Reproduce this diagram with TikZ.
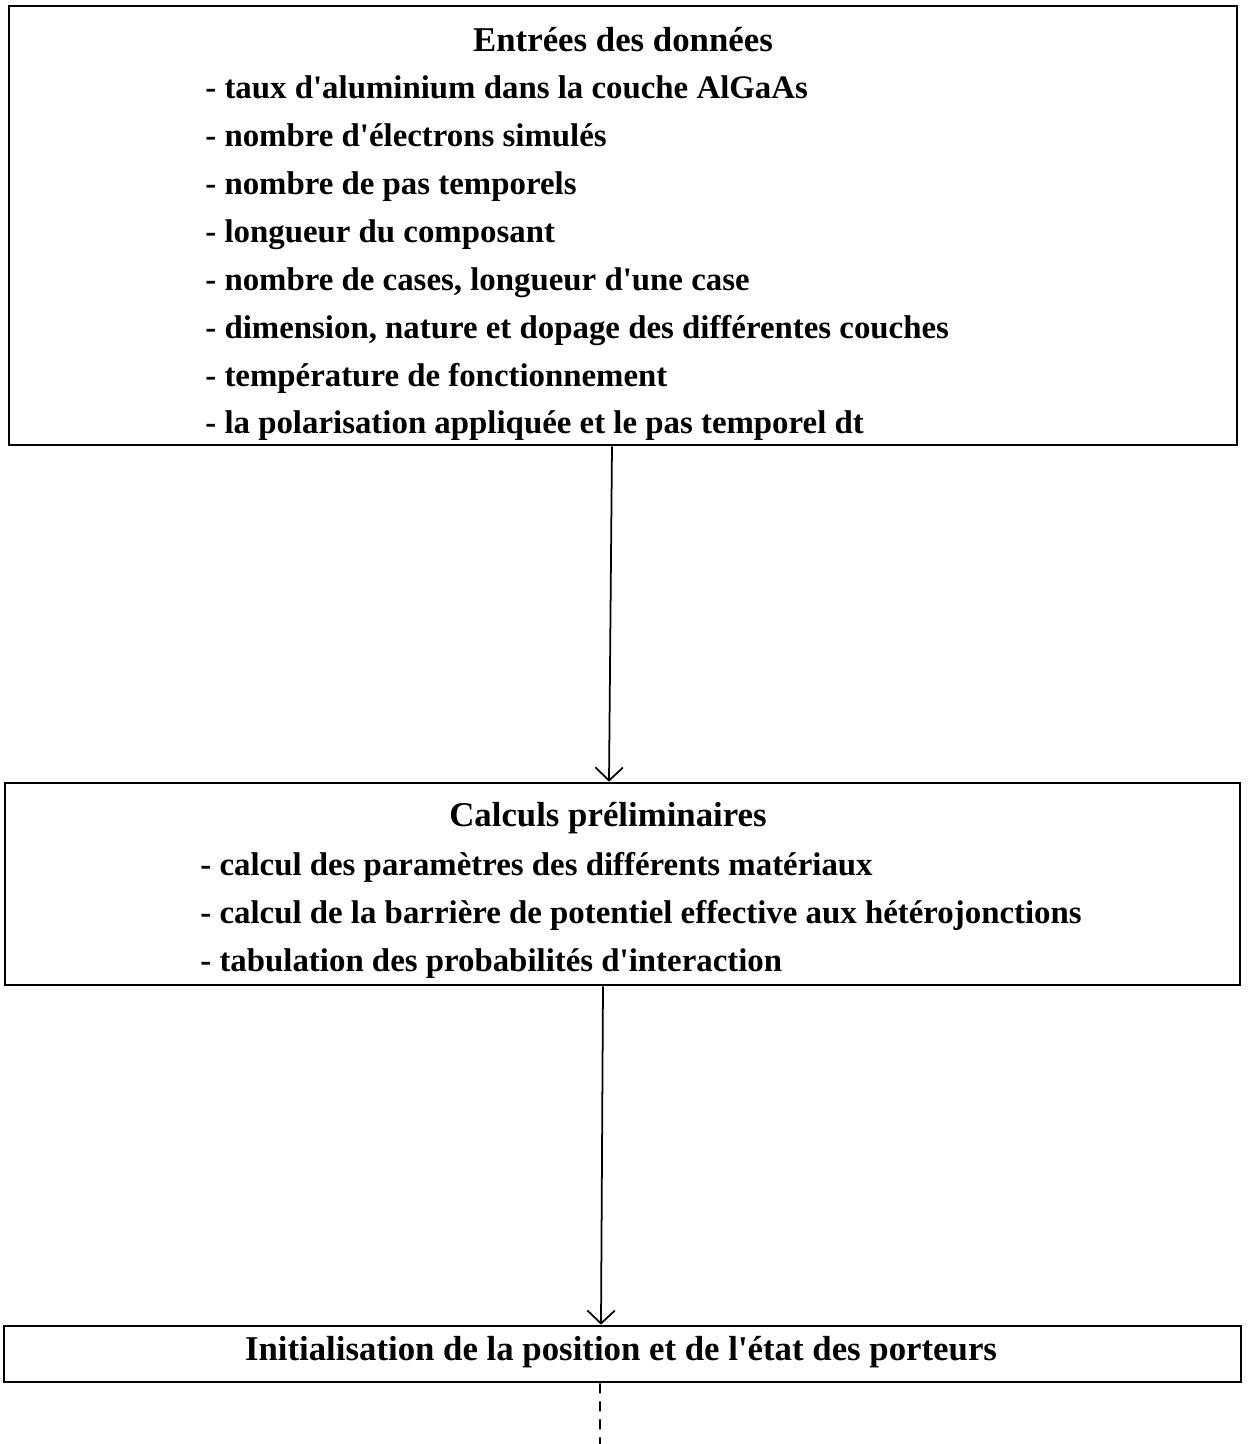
\documentclass[tikz,border=0pt]{standalone}
\usepackage{fontspec}
\setmainfont{Liberation Serif}
\usetikzlibrary{arrows.meta,positioning}
\newcommand{\ap}{\textquotesingle}

\begin{document}
\begin{tikzpicture}[>={Straight Barb[length=2.6mm,width=5.5mm]},
  bx/.style={rectangle,draw,line width=1.5pt,inner sep=0pt},
  ttl/.style={font=\fontsize{19.8}{27.3}\selectfont\bfseries},
  lst/.style={align=left,anchor=north west,inner sep=0pt,font=\fontsize{18.7}{27.3}\selectfont\bfseries}]
  \useasboundingbox (0,0) rectangle (24.98,-28.88);
  % boxes
  \node[bx, minimum width=24.56cm, minimum height=8.78cm] (entrees) at (12.46,-4.51) {};
  \node[bx, minimum width=24.70cm, minimum height=4.04cm] (calculs) at (12.45,-17.68) {};
  \node[bx, minimum width=24.74cm, minimum height=1.12cm] (init) at (12.45,-27.08) {};
  % texts
  \node[ttl] (entreesT) at (12.46,-0.80) {Entrées des données};
  \node[lst] (entreesL) at (4.10,-1.50) {- taux d\ap aluminium dans la couche AlGaAs\\
    - nombre d\ap électrons simulés\\
    - nombre de pas temporels\\
    - longueur du composant\\
    - nombre de cases, longueur d\ap une case\\
    - dimension, nature et dopage des différentes couches\\
    - température de fonctionnement\\
    - la polarisation appliquée et le pas temporel dt};
  \node[ttl] (calculsT) at (12.16,-16.36) {Calculs préliminaires};
  \node[lst] (calculsL) at (4.00,-17.04) {- calcul des paramètres des différents matériaux\\
    - calcul de la barrière de potentiel effective aux hétérojonctions\\
    - tabulation des probabilités d\ap interaction};
  \node[ttl] (initT) at (12.42,-27.04) {Initialisation de la position et de l\ap état des porteurs};
  % connectors
  \coordinate (suite) at (12.00,-28.88);
  \draw[->, line width=1pt] ([xshift=-0.22cm]entrees.south) -- ([xshift=-0.27cm]calculs.north);
  \draw[->, line width=1pt] ([xshift=-0.39cm]calculs.south) -- ([xshift=-0.43cm]init.north);
  \draw[line width=1pt, dash pattern=on 0.2cm off 0.16cm] ([xshift=-0.45cm]init.south) -- (suite);
\end{tikzpicture}
\end{document}
